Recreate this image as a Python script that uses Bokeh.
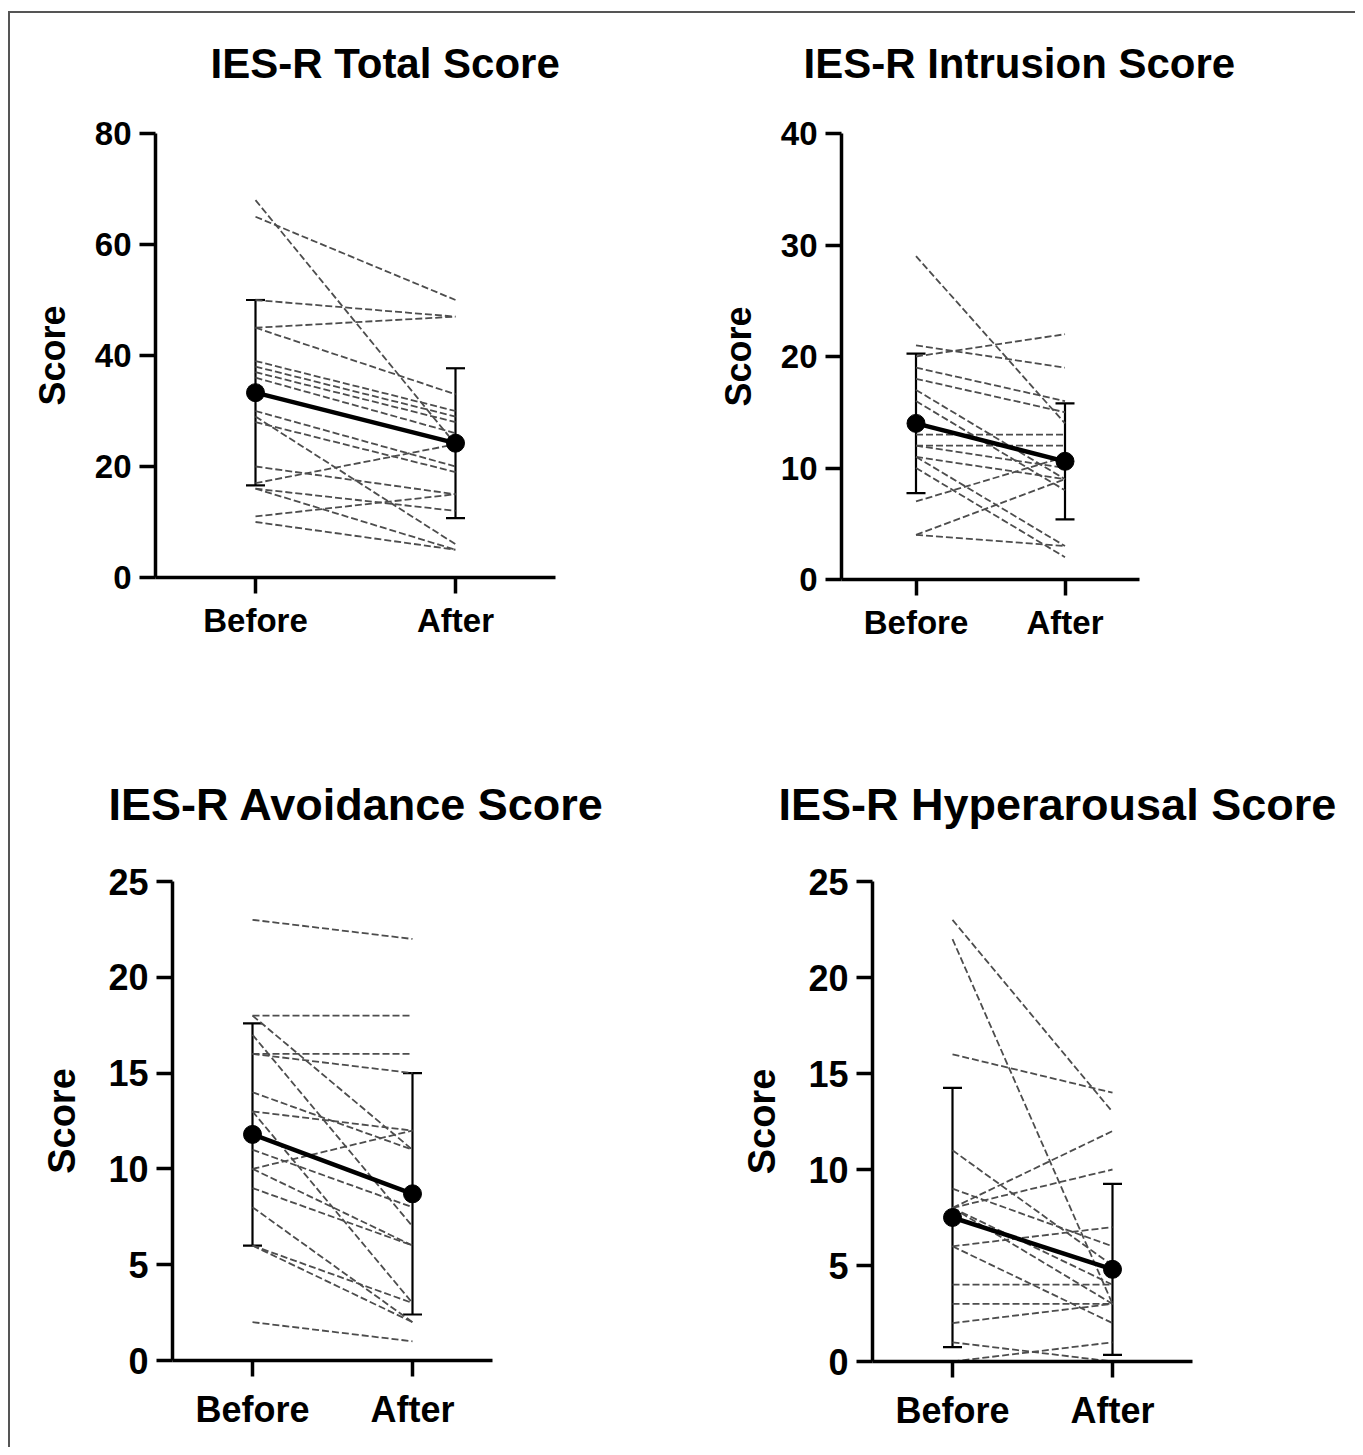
from bokeh.plotting import figure
from bokeh.models import Range1d, FixedTicker, Whisker, TeeHead, ColumnDataSource, Title
from bokeh.layouts import column, row
from bokeh.embed import file_html
from bokeh.resources import INLINE

# ---------------- data ----------------
conditions = ["Before", "After"]

total_before = [68, 65, 50, 45, 45, 39, 38, 37, 36, 30, 29, 28, 20, 17, 16, 16, 11, 10]
total_after = [24, 50, 47, 47, 33, 30, 29, 28, 26, 20, 6, 19, 15, 24, 12, 5, 15, 5]
total_mean = [33.3, 24.2]
total_sd = [16.7, 13.5]

intrusion_before = [29, 21, 20, 19, 18, 17, 16, 13, 12, 12, 11, 11, 10, 7, 4, 4]
intrusion_after = [14, 19, 22, 16, 15, 9, 8, 13, 12, 10, 9, 3, 2, 11, 9, 3]
intrusion_mean = [14.0, 10.6]
intrusion_sd = [6.25, 5.2]

avoidance_before = [23, 18, 18, 17, 16, 16, 14, 13, 13, 11, 10, 10, 9, 8, 6, 6, 2, 0]
avoidance_after = [22, 18, 11, 7, 16, 15, 11, 12, 3, 8, 12, 6, 6, 2, 3, 2, 1, 0]
avoidance_mean = [11.8, 8.7]
avoidance_sd = [5.8, 6.3]

hyper_before = [23, 22, 16, 11, 8, 8, 9, 8, 8, 6, 6, 4, 3, 2, 1, 0, 0, 0]
hyper_after = [13, 3, 14, 5, 12, 10, 6, 4, 3, 7, 2, 4, 3, 3, 0, 1, 0, 0]
hyper_mean = [7.5, 4.8]
hyper_sd = [6.75, 4.45]

total_ticks = [0, 20, 40, 60, 80]
intrusion_ticks = [0, 10, 20, 30, 40]
sub_ticks = [0, 5, 10, 15, 20, 25]

titles = ["IES-R Total Score", "IES-R Intrusion Score",
          "IES-R Avoidance Score", "IES-R Hyperarousal Score"]

FONT = "Liberation Sans"


def make_panel(title, before, after, mean, sd, ymax, yticks, frame_w, frame_h,
               borders, title_size, title_offset, title_standoff, extra_line,
               tick_size, label_size, label_standoff, x_standoff):
    left, right, top, bottom = borders
    p = figure(frame_width=frame_w, frame_height=frame_h,
               min_border_left=left, min_border_right=right,
               min_border_top=top, min_border_bottom=bottom,
               x_range=Range1d(-0.5, 1.5), y_range=Range1d(0, ymax),
               output_backend="svg", toolbar_location=None, tools="")
    p.xgrid.visible = False
    p.ygrid.visible = False
    p.outline_line_color = None
    p.background_fill_color = "white"
    p.border_fill_color = "white"

    xs = [[0, 1] for _ in before]
    ys = [[b, a] for b, a in zip(before, after)]
    p.multi_line(xs, ys, line_color="#4d4d4d", line_width=1.8, line_dash="7 3")

    src = ColumnDataSource(dict(
        x=[0, 1], mean=mean,
        upper=[m + s for m, s in zip(mean, sd)],
        lower=[m - s for m, s in zip(mean, sd)]))
    w = Whisker(source=src, base="x", upper="upper", lower="lower",
                line_color="black", line_width=2.2,
                upper_head=TeeHead(size=19, line_width=2.2, line_color="black"),
                lower_head=TeeHead(size=19, line_width=2.2, line_color="black"))
    p.add_layout(w)
    p.line("x", "mean", source=src, line_color="black", line_width=4.5)
    p.scatter("x", "mean", source=src, size=18, color="black")

    for ax in (p.xaxis[0], p.yaxis[0]):
        ax.axis_line_width = 3.5
        ax.axis_line_color = "black"
        ax.major_tick_line_width = 3.5
        ax.major_tick_line_color = "black"
        ax.major_tick_out = 16
        ax.major_tick_in = 0
        ax.minor_tick_line_color = None
        ax.major_label_text_font = FONT
        ax.major_label_text_font_style = "bold"
        ax.major_label_text_font_size = tick_size
        ax.major_label_text_color = "black"

    p.xaxis.ticker = FixedTicker(ticks=[0, 1])
    p.xaxis.major_label_overrides = {i: c for i, c in enumerate(conditions)}
    p.xaxis.major_label_standoff = x_standoff
    p.yaxis.ticker = FixedTicker(ticks=yticks)
    p.yaxis.major_label_standoff = 8
    p.yaxis.axis_label = "Score"
    p.yaxis.axis_label_text_font = FONT
    p.yaxis.axis_label_text_font_style = "bold"
    p.yaxis.axis_label_text_font_size = label_size
    p.yaxis.axis_label_text_color = "black"
    p.yaxis.axis_label_standoff = label_standoff

    text = title + "\n" if extra_line else title
    t = Title(text=text, align="left", offset=title_offset, standoff=title_standoff,
              vertical_align="bottom",
              text_font=FONT, text_font_style="bold", text_font_size=title_size,
              text_line_height=1.0, text_color="black")
    p.add_layout(t, "above")
    return p


f1 = make_panel(titles[0], total_before, total_after, total_mean, total_sd,
                80, total_ticks, 400, 444, (145, 150, 120, 143), "42px", 55, 0, True,
                "33px", "36px", 19, 8)
f2 = make_panel(titles[1], intrusion_before, intrusion_after, intrusion_mean,
                intrusion_sd, 40, intrusion_ticks, 298, 446, (136, 216, 118, 143), "42px", -38, 0, True,
                "33px", "36px", 19, 8)
f3 = make_panel(titles[2], avoidance_before, avoidance_after, avoidance_mean,
                avoidance_sd, 25, sub_ticks, 320, 479, (162, 228, 161, 87), "45px", -64, 103, False,
                "36px", "38px", 22, 12)
f4 = make_panel(titles[3], hyper_before, hyper_after, hyper_mean,
                hyper_sd, 25, sub_ticks, 320, 480, (152, 163, 161, 86), "45px", -94, 103, False,
                "36px", "38px", 22, 12)

layout = column(row(f1, f2), row(f3, f4), margin=(11, 0, 0, 8),
                styles={"border-left": "2px solid #555555", "border-top": "2px solid #555555"})

open("out.html", "w").write(file_html(layout, INLINE))
